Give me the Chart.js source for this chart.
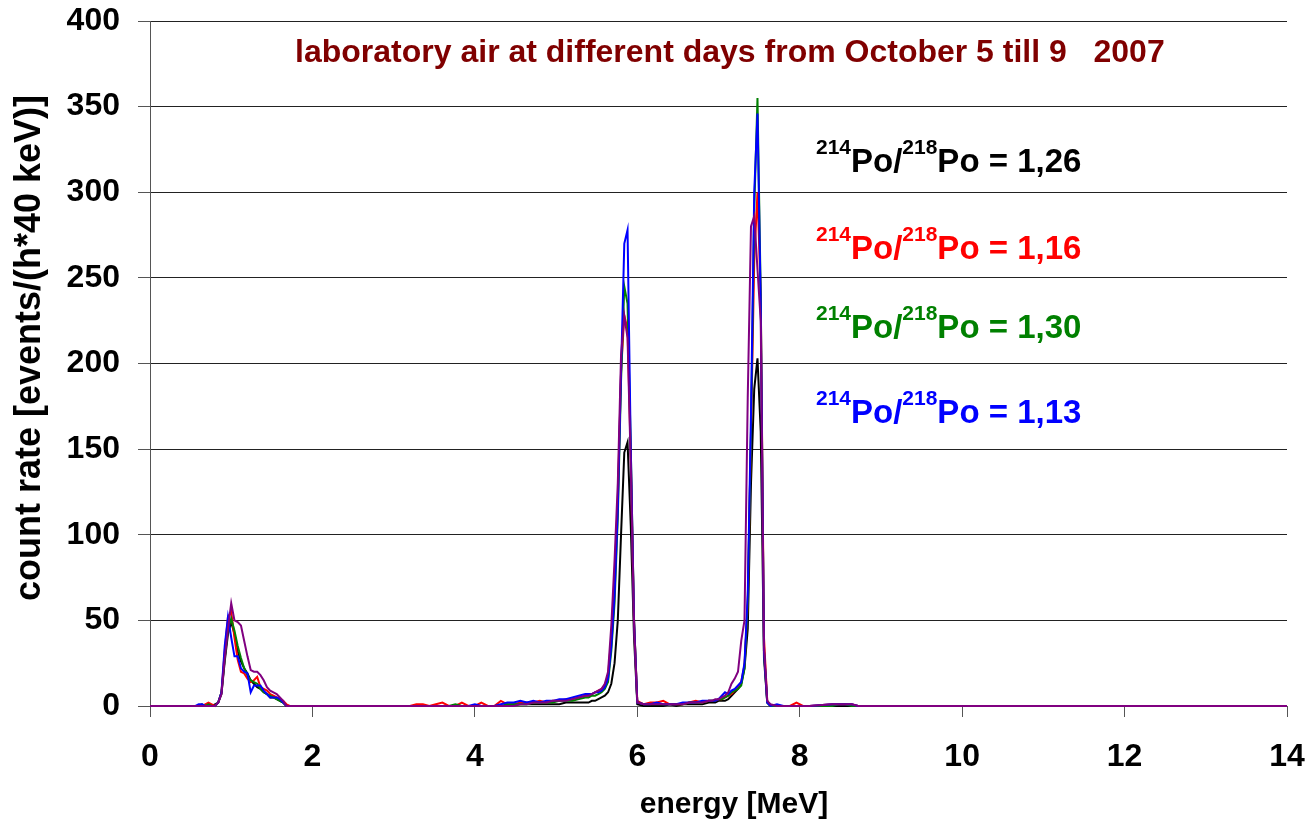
<!DOCTYPE html>
<html>
<head>
<meta charset="utf-8">
<script src="https://cdn.jsdelivr.net/npm/chart.js@4.4.1/dist/chart.umd.min.js"></script>
<style>
    html, body { margin: 0; padding: 0; background: #ffffff; }
    .chart-container { position: relative; width: 1310px; height: 828px; }
</style>
</head>
<body>
<div class="chart-container"><canvas id="spectrumChart" width="1310" height="828"></canvas></div>
<script>
// energy bins [MeV] (40 keV bins near the peaks, coarser in the flat parts)
const energy = [0,
    0.56, 0.60, 0.64, 0.68, 0.72, 0.76, 0.80, 0.84, 0.88, 0.92, 0.96, 1.00, 1.04, 1.08, 1.12, 1.16,
    1.20, 1.24, 1.28, 1.32, 1.36, 1.40, 1.44, 1.48, 1.52, 1.56, 1.60, 1.64, 1.68, 1.72, 1.76,
    3.20, 3.28, 3.36, 3.44, 3.52, 3.60, 3.68, 3.76, 3.84, 3.92, 4.00, 4.08, 4.16, 4.24,
    4.32, 4.40, 4.48, 4.56, 4.64, 4.72, 4.80, 4.88, 4.96, 5.04, 5.12, 5.20, 5.28, 5.36,
    5.40, 5.44, 5.48, 5.52, 5.56, 5.60, 5.64, 5.68, 5.72, 5.76, 5.80, 5.84, 5.88, 5.92, 5.96, 6.00,
    6.08, 6.16, 6.24, 6.32, 6.40, 6.48, 6.56, 6.64, 6.72, 6.80, 6.88,
    6.92, 6.96, 7.00, 7.04, 7.08, 7.12, 7.16, 7.20, 7.24, 7.28, 7.32, 7.36, 7.40, 7.44, 7.48, 7.52, 7.56, 7.60, 7.64,
    7.72, 7.80, 7.88, 7.96, 8.04, 8.12, 8.40, 8.48, 8.56, 8.64, 8.72,
    14];

const countsBlack = [0,
    0, 0, 1, 0, 0, 0, 1, 2, 7, 26, 42, 49, 42, 32, 26, 22, 19, 15, 13, 11, 10, 8, 7, 5, 5, 4, 3, 2, 0, 0, 0,
    0, 0, 0, 0, 0, 0, 0, 0, 0, 0, 0, 0, 0, 0, 0, 0, 1, 1, 1, 1, 1, 1, 1, 1, 2, 2, 2, 2,
    2, 3, 3, 4, 5, 6, 8, 13, 25, 50, 100, 148, 154, 105, 40, 1,
    0, 0, 0, 0, 1, 0, 1, 1, 1, 1, 2,
    2, 2, 3, 3, 3, 4, 6, 8, 10, 13, 22, 45, 130, 185, 203, 160, 28, 2, 0,
    0, 0, 0, 0, 0, 0, 0, 0, 0, 0, 0,
    0];

const countsRed = [0,
    0, 0, 0, 1, 2, 1, 0, 2, 8, 32, 52, 55, 40, 27, 20, 19, 16, 14, 15, 17, 11, 10, 9, 7, 6, 5, 4, 3, 1, 0, 0,
    0, 1, 1, 0, 1, 2, 0, 0, 2, 0, 0, 2, 0, 0, 3, 1, 1, 2, 2, 2, 3, 2, 3, 3, 4, 4, 5, 6,
    6, 7, 8, 9, 10, 12, 18, 40, 75, 120, 195, 228, 220, 145, 50, 3,
    1, 2, 2, 3, 1, 1, 1, 2, 3, 2, 3,
    3, 3, 4, 4, 5, 6, 7, 9, 11, 14, 24, 60, 160, 260, 300, 240, 40, 3, 0,
    0, 0, 0, 2, 0, 0, 1, 1, 1, 1, 0,
    0];

const countsGreen = [0,
    0, 0, 0, 0, 1, 0, 0, 2, 8, 28, 45, 51, 44, 35, 28, 22, 18, 15, 14, 13, 10, 8, 7, 6, 5, 4, 3, 2, 0, 0, 0,
    0, 0, 0, 0, 0, 0, 0, 1, 0, 0, 0, 0, 0, 0, 0, 1, 1, 1, 1, 2, 2, 2, 2, 3, 3, 3, 4, 5,
    5, 6, 6, 7, 8, 10, 14, 32, 60, 110, 190, 245, 235, 150, 50, 2,
    1, 1, 1, 1, 1, 1, 1, 2, 2, 2, 3,
    3, 3, 4, 4, 5, 6, 8, 9, 10, 12, 22, 60, 160, 290, 355, 240, 32, 2, 0,
    0, 0, 0, 0, 0, 0, 0, 1, 1, 0, 0,
    0];

const countsBlue = [0,
    0, 1, 1, 0, 0, 0, 0, 2, 8, 35, 52, 40, 29, 29, 22, 20, 19, 8, 12, 12, 12, 9, 7, 5, 5, 5, 4, 2, 0, 0, 0,
    0, 0, 0, 0, 0, 0, 0, 0, 0, 0, 1, 0, 0, 0, 1, 2, 2, 3, 2, 3, 2, 3, 3, 4, 4, 5, 6, 7,
    7, 7, 8, 8, 9, 11, 16, 35, 65, 115, 195, 270, 278, 150, 50, 2,
    1, 1, 2, 1, 1, 1, 2, 2, 2, 3, 3,
    3, 3, 4, 6, 8, 7, 9, 10, 12, 14, 25, 65, 170, 300, 346, 235, 32, 2, 0,
    1, 0, 0, 0, 0, 0, 1, 1, 1, 1, 0,
    0];

const countsPurple = [0,
    0, 0, 0, 0, 0, 0, 0, 2, 7, 28, 45, 60, 50, 49, 47, 38, 29, 21, 20, 20, 18, 15, 11, 9, 8, 7, 5, 3, 0, 0, 0,
    0, 0, 0, 0, 0, 0, 0, 0, 0, 0, 0, 0, 0, 0, 0, 0, 0, 1, 1, 2, 2, 2, 3, 3, 3, 4, 5, 6,
    6, 7, 8, 9, 10, 13, 20, 47, 85, 130, 205, 228, 215, 140, 48, 2,
    1, 1, 1, 1, 1, 1, 1, 2, 2, 2, 3,
    3, 4, 4, 5, 6, 8, 13, 16, 20, 38, 50, 180, 280, 286, 255, 225, 35, 3, 1,
    0, 0, 0, 0, 0, 0, 1, 1, 1, 1, 0,
    0];

const chartTitle = 'laboratory air at different days from October 5 till 9   2007';
const xTitle = 'energy [MeV]';
const yTitle = 'count rate [events/(h*40 keV)]';
const ratioValues = ['1,26', '1,16', '1,30', '1,13'];
const ratioColors = ['#000000', '#ff0000', '#008000', '#0000ff'];

const FONT = '"Liberation Sans", Arial, sans-serif';

function makeSeries(values, color, order) {
    return {
        data: energy.map((e, i) => ({ x: e, y: values[i] })),
        borderColor: color,
        borderWidth: 2,
        pointRadius: 0,
        tension: 0,
        fill: false,
        clip: 4,
        order: order
    };
}

// title, axis titles and the 214Po/218Po ratio texts
const textPlugin = {
    id: 'textPlugin',
    afterDraw(chart) {
        const ctx = chart.ctx;
        const x = chart.scales.x;
        const y = chart.scales.y;
        ctx.save();
        ctx.fillStyle = '#000000';

        // axis titles
        ctx.font = 'bold 30px ' + FONT;
        ctx.textAlign = 'center';
        ctx.textBaseline = 'middle';
        ctx.fillText(xTitle, 734, 805);

        ctx.save();
        ctx.translate(30, 348);
        ctx.rotate(-Math.PI / 2);
        ctx.font = 'bold 36px ' + FONT;
        ctx.fillText(yTitle, 0, 0);
        ctx.restore();

        // chart title
        ctx.textBaseline = 'alphabetic';
        ctx.font = 'bold 32px ' + FONT;
        ctx.fillStyle = '#800000';
        ctx.fillText(chartTitle, x.getPixelForValue(7.14), y.getPixelForValue(376));

        ctx.textAlign = 'left';
        const baselines = [311.7, 260.9, 214.9, 165.3];
        ratioValues.forEach((val, k) => {
            let cx = x.getPixelForValue(8.2);
            const by = y.getPixelForValue(baselines[k]);
            const parts = [
                ['bold 21px ' + FONT, '214', true],
                ['bold 33px ' + FONT, 'Po/', false],
                ['bold 21px ' + FONT, '218', true],
                ['bold 33px ' + FONT, 'Po = ' + val, false]
            ];
            ctx.fillStyle = ratioColors[k];
            parts.forEach(([font, text, sup]) => {
                ctx.font = font;
                ctx.fillText(text, cx, sup ? by - 18 : by);
                cx += ctx.measureText(text).width;
            });
        });
        ctx.restore();
    }
};

const ctx = document.getElementById('spectrumChart');

new Chart(ctx, {
    type: 'line',
    data: {
        datasets: [
            makeSeries(countsBlack, '#000000', 4),
            makeSeries(countsRed, '#ff0000', 3),
            makeSeries(countsGreen, '#008000', 2),
            makeSeries(countsBlue, '#0000ff', 1),
            makeSeries(countsPurple, '#800080', 0)
        ]
    },
    options: {
        responsive: false,
        animation: false,
        devicePixelRatio: 1,
        layout: {
            padding: { left: 0, right: 23, top: 21, bottom: 0 }
        },
        plugins: {
            legend: { display: false },
            tooltip: { enabled: false }
        },
        scales: {
            x: {
                type: 'linear',
                min: 0,
                max: 14,
                afterFit: s => {
                    s.height = 122;
                    s.paddingLeft = 0;
                    s.paddingRight = 0;
                },
                ticks: {
                    stepSize: 2,
                    color: '#000000',
                    padding: 21,
                    font: { family: FONT, size: 32, weight: 'bold' }
                },
                grid: {
                    drawOnChartArea: false,
                    drawTicks: true,
                    tickLength: 11,
                    tickColor: '#555555'
                },
                border: { color: '#555555', width: 1 }
            },
            y: {
                min: 0,
                max: 400,
                afterFit: s => {
                    s.width = 150;
                    s.paddingTop = 0;
                    s.paddingBottom = 0;
                },
                ticks: {
                    stepSize: 50,
                    color: '#000000',
                    padding: 18,
                    font: { family: FONT, size: 32, weight: 'bold' }
                },
                grid: {
                    color: c => c.tick.value === 0 ? '#555555' : '#222222',
                    lineWidth: 1,
                    drawTicks: true,
                    tickLength: 12,
                    tickColor: '#555555'
                },
                border: { color: '#555555', width: 1 }
            }
        }
    },
    plugins: [textPlugin]
});
</script>
</body>
</html>
